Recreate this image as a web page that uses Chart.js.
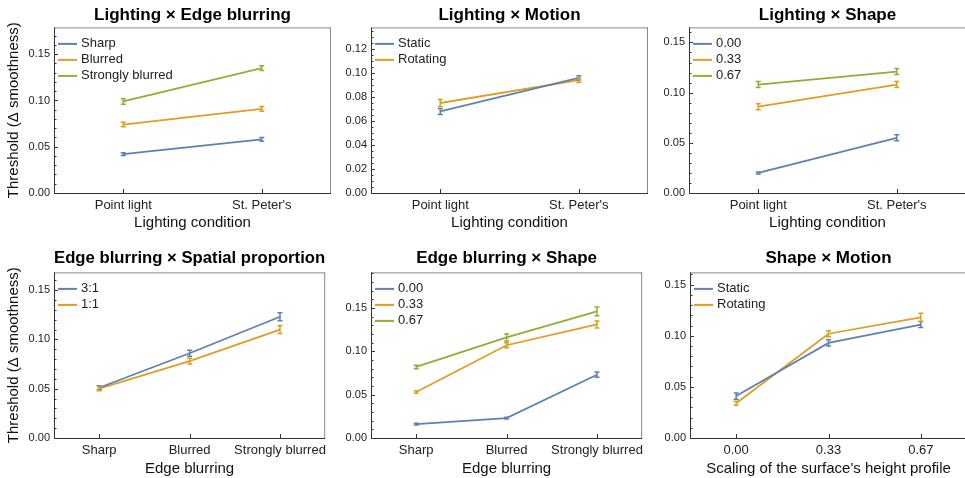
<!DOCTYPE html>
<html>
<head>
<meta charset="utf-8">
<script src="https://cdn.jsdelivr.net/npm/chart.js@4.4.1/dist/chart.umd.min.js"></script>
<style>
  html, body { margin: 0; padding: 0; background: #fff; overflow: hidden; width: 965px; height: 478px; }
  canvas { position: absolute; }
</style>
</head>
<body>
<canvas id="c1" width="332" height="240" style="left:0;top:0"></canvas>
<canvas id="c2" width="318" height="240" style="left:331px;top:0"></canvas>
<canvas id="c3" width="318" height="240" style="left:649px;top:0"></canvas>
<canvas id="c4" width="332" height="233" style="left:0;top:245px"></canvas>
<canvas id="c5" width="318" height="233" style="left:331px;top:245px"></canvas>
<canvas id="c6" width="318" height="233" style="left:650px;top:245px"></canvas>
<script>
// categories
const lightingCats = ["Point light", "St. Peter's"];
const blurCats = ["Sharp", "Blurred", "Strongly blurred"];
const shapeCats = ["0.00", "0.33", "0.67"];

// y tick labels
const ticks05 = [0, 0.05, 0.10, 0.15];
const ticks02 = [0, 0.02, 0.04, 0.06, 0.08, 0.10, 0.12];

// Lighting x Edge blurring
const leSharp = [0.042, 0.058];
const leBlurred = [0.074, 0.091];
const leStrong = [0.099, 0.135];
const leSharpErr = [0.0015, 0.002];
const leBlurredErr = [0.0025, 0.0025];
const leStrongErr = [0.003, 0.0025];

// Lighting x Motion
const lmStatic = [0.068, 0.096];
const lmRotating = [0.075, 0.094];
const lmStaticErr = [0.0025, 0.0018];
const lmRotatingErr = [0.003, 0.002];

// Lighting x Shape
const lsS0 = [0.020, 0.055];
const lsS33 = [0.086, 0.108];
const lsS67 = [0.108, 0.121];
const lsS0Err = [0.001, 0.003];
const lsS33Err = [0.003, 0.003];
const lsS67Err = [0.003, 0.003];

// Edge blurring x Spatial proportion
const bp31 = [0.051, 0.086, 0.123];
const bp11 = [0.050, 0.078, 0.110];
const bp31Err = [0.002, 0.003, 0.004];
const bp11Err = [0.002, 0.003, 0.004];

// Edge blurring x Shape
const bsS0 = [0.016, 0.023, 0.073];
const bsS33 = [0.053, 0.107, 0.131];
const bsS67 = [0.082, 0.116, 0.146];
const bsS0Err = [0.001, 0.001, 0.003];
const bsS33Err = [0.0015, 0.003, 0.004];
const bsS67Err = [0.002, 0.004, 0.005];

// Shape x Motion
const smStatic = [0.041, 0.093, 0.111];
const smRotating = [0.034, 0.102, 0.118];
const smStaticErr = [0.003, 0.003, 0.003];
const smRotatingErr = [0.002, 0.003, 0.004];

const COLORS = ["#5E81B5", "#E19C24", "#8FB032"];
const FONT = "'Liberation Sans', Arial, sans-serif";
Chart.defaults.font.family = FONT;
Chart.defaults.color = "#222";

// frame with inward ticks (major + minor on y)
const framePlugin = {
  id: "frame",
  afterDraw(chart) {
    const { ctx, chartArea: a, scales } = chart;
    const minor = chart.options.plugins.frame.minor;
    ctx.save();
    ctx.lineWidth = 1;
    ctx.strokeStyle = "#888";
    ctx.beginPath();
    ctx.moveTo(a.left, a.top + 0.5); ctx.lineTo(a.right, a.top + 0.5);
    ctx.moveTo(a.right - 0.5, a.top); ctx.lineTo(a.right - 0.5, a.bottom);
    ctx.stroke();
    ctx.strokeStyle = "#333";
    ctx.beginPath();
    ctx.moveTo(a.left + 0.5, a.top); ctx.lineTo(a.left + 0.5, a.bottom + 0.5);
    ctx.lineTo(a.right, a.bottom + 0.5);
    // y ticks
    const y = scales.y;
    for (let v = 0; v <= y.max + 1e-9; v += minor) {
      const py = Math.round(y.getPixelForValue(v)) + 0.5;
      const major = y.ticks.some(t => Math.abs(t.value - v) < 1e-6);
      ctx.moveTo(a.left, py); ctx.lineTo(a.left + (major ? 4 : 2.5), py);
    }
    // x ticks
    const x = scales.x;
    x.ticks.forEach((t, i) => {
      const px = Math.round(x.getPixelForTick(i)) + 0.5;
      ctx.moveTo(px, a.bottom); ctx.lineTo(px, a.bottom - 4);
    });
    ctx.stroke();
    ctx.restore();
  }
};

const errorBarPlugin = {
  id: "errorBars",
  afterDatasetsDraw(chart) {
    const { ctx, scales } = chart;
    ctx.save();
    chart.data.datasets.forEach((ds, i) => {
      const meta = chart.getDatasetMeta(i);
      ctx.strokeStyle = ds.borderColor;
      ctx.lineWidth = 1.5;
      ds.data.forEach((v, j) => {
        const e = ds.errors[j];
        const px = meta.data[j].x;
        const y1 = scales.y.getPixelForValue(v - e);
        const y2 = scales.y.getPixelForValue(v + e);
        ctx.beginPath();
        ctx.moveTo(px, y1); ctx.lineTo(px, y2);
        ctx.moveTo(px - 2.5, y1); ctx.lineTo(px + 2.5, y1);
        ctx.moveTo(px - 2.5, y2); ctx.lineTo(px + 2.5, y2);
        ctx.stroke();
      });
    });
    ctx.restore();
  }
};

const legendPlugin = {
  id: "insideLegend",
  afterDraw(chart) {
    const { ctx, chartArea: a } = chart;
    ctx.save();
    ctx.font = "13px " + FONT;
    ctx.textBaseline = "middle";
    ctx.fillStyle = "#222";
    chart.data.datasets.forEach((ds, i) => {
      const yy = a.top + 16.5 + i * 16;
      ctx.strokeStyle = ds.borderColor;
      ctx.lineWidth = 2;
      ctx.beginPath();
      ctx.moveTo(a.left + 4, yy); ctx.lineTo(a.left + 23, yy);
      ctx.stroke();
      ctx.fillText(ds.label, a.left + 27, yy);
    });
    ctx.restore();
  }
};

function panel(id, o) {
  return new Chart(document.getElementById(id), {
    type: "line",
    data: {
      labels: o.cats,
      datasets: o.series.map((s, i) => ({
        label: s.name,
        data: s.values,
        errors: s.errors,
        borderColor: COLORS[i],
        backgroundColor: COLORS[i],
        borderWidth: 1.8,
        pointRadius: 0,
        tension: 0,
        fill: false
      }))
    },
    options: {
      responsive: false,
      animation: false,
      events: [],
      layout: { padding: { left: 0, right: 1, top: 0, bottom: 0 } },
      plugins: {
        legend: { display: false },
        tooltip: { enabled: false },
        title: {
          display: true, text: o.title, fullSize: false, color: "#000",
          font: { size: 17, weight: "bold" },
          padding: o.titlePad
        },
        frame: { minor: o.minor }
      },
      scales: {
        x: {
          type: "category",
          offset: true,
          grid: { display: false, drawTicks: false },
          border: { display: false },
          ticks: { font: { size: 13 }, padding: 5, autoSkip: false, maxRotation: 0, color: "#222" },
          title: { display: true, text: o.xTitle, color: "#111", font: { size: 15 }, padding: { top: 0, bottom: o.xTitlePad } },
          afterFit: s => { s.height = o.xHeight; }
        },
        y: {
          min: 0,
          max: o.yMax,
          grid: { display: false, drawTicks: false },
          border: { display: false },
          afterBuildTicks: s => { s.ticks = o.yTicks.map(v => ({ value: v })); },
          ticks: { font: { size: 11 }, padding: 4, autoSkip: false, color: "#222", callback: v => v.toFixed(2) },
          title: { display: !!o.yTitle, text: o.yTitle || "", color: "#111", font: { size: 15 }, padding: { top: 5, bottom: 0 } },
          afterFit: s => { s.width = o.yWidth; }
        }
      }
    },
    plugins: [framePlugin, errorBarPlugin, legendPlugin]
  });
}

const yTitle = "Threshold (\u0394 smoothness)";
const topPad = { top: 5, bottom: 2 };
const botPad = { top: 3, bottom: 4 };

panel("c1", {
  title: "Lighting \u00d7 Edge blurring", cats: lightingCats, xTitle: "Lighting condition", yTitle,
  yMax: 0.179, yTicks: ticks05, minor: 0.01, yWidth: 54, xHeight: 47, xTitlePad: 8, titlePad: topPad,
  series: [
    { name: "Sharp", values: leSharp, errors: leSharpErr },
    { name: "Blurred", values: leBlurred, errors: leBlurredErr },
    { name: "Strongly blurred", values: leStrong, errors: leStrongErr }
  ]
});

panel("c2", {
  title: "Lighting \u00d7 Motion", cats: lightingCats, xTitle: "Lighting condition",
  yMax: 0.138, yTicks: ticks02, minor: 0.005, yWidth: 40, xHeight: 47, xTitlePad: 8, titlePad: topPad,
  series: [
    { name: "Static", values: lmStatic, errors: lmStaticErr },
    { name: "Rotating", values: lmRotating, errors: lmRotatingErr }
  ]
});

panel("c3", {
  title: "Lighting \u00d7 Shape", cats: lightingCats, xTitle: "Lighting condition",
  yMax: 0.165, yTicks: ticks05, minor: 0.01, yWidth: 40, xHeight: 47, xTitlePad: 8, titlePad: topPad,
  series: [
    { name: "0.00", values: lsS0, errors: lsS0Err },
    { name: "0.33", values: lsS33, errors: lsS33Err },
    { name: "0.67", values: lsS67, errors: lsS67Err }
  ]
});

panel("c4", {
  title: "Edge blurring \u00d7 Spatial proportion", cats: blurCats, xTitle: "Edge blurring", yTitle,
  yMax: 0.168, yTicks: ticks05, minor: 0.01, yWidth: 54, xHeight: 40, xTitlePad: 0, titlePad: botPad,
  series: [
    { name: "3:1", values: bp31, errors: bp31Err },
    { name: "1:1", values: bp11, errors: bp11Err }
  ]
});

panel("c5", {
  title: "Edge blurring \u00d7 Shape", cats: blurCats, xTitle: "Edge blurring",
  yMax: 0.191, yTicks: ticks05, minor: 0.01, yWidth: 40, xHeight: 40, xTitlePad: 0, titlePad: botPad,
  series: [
    { name: "0.00", values: bsS0, errors: bsS0Err },
    { name: "0.33", values: bsS33, errors: bsS33Err },
    { name: "0.67", values: bsS67, errors: bsS67Err }
  ]
});

panel("c6", {
  title: "Shape \u00d7 Motion", cats: shapeCats, xTitle: "Scaling of the surface's height profile",
  yMax: 0.162, yTicks: ticks05, minor: 0.01, yWidth: 40, xHeight: 40, xTitlePad: 0, titlePad: botPad,
  series: [
    { name: "Static", values: smStatic, errors: smStaticErr },
    { name: "Rotating", values: smRotating, errors: smRotatingErr }
  ]
});
</script>
</body>
</html>
